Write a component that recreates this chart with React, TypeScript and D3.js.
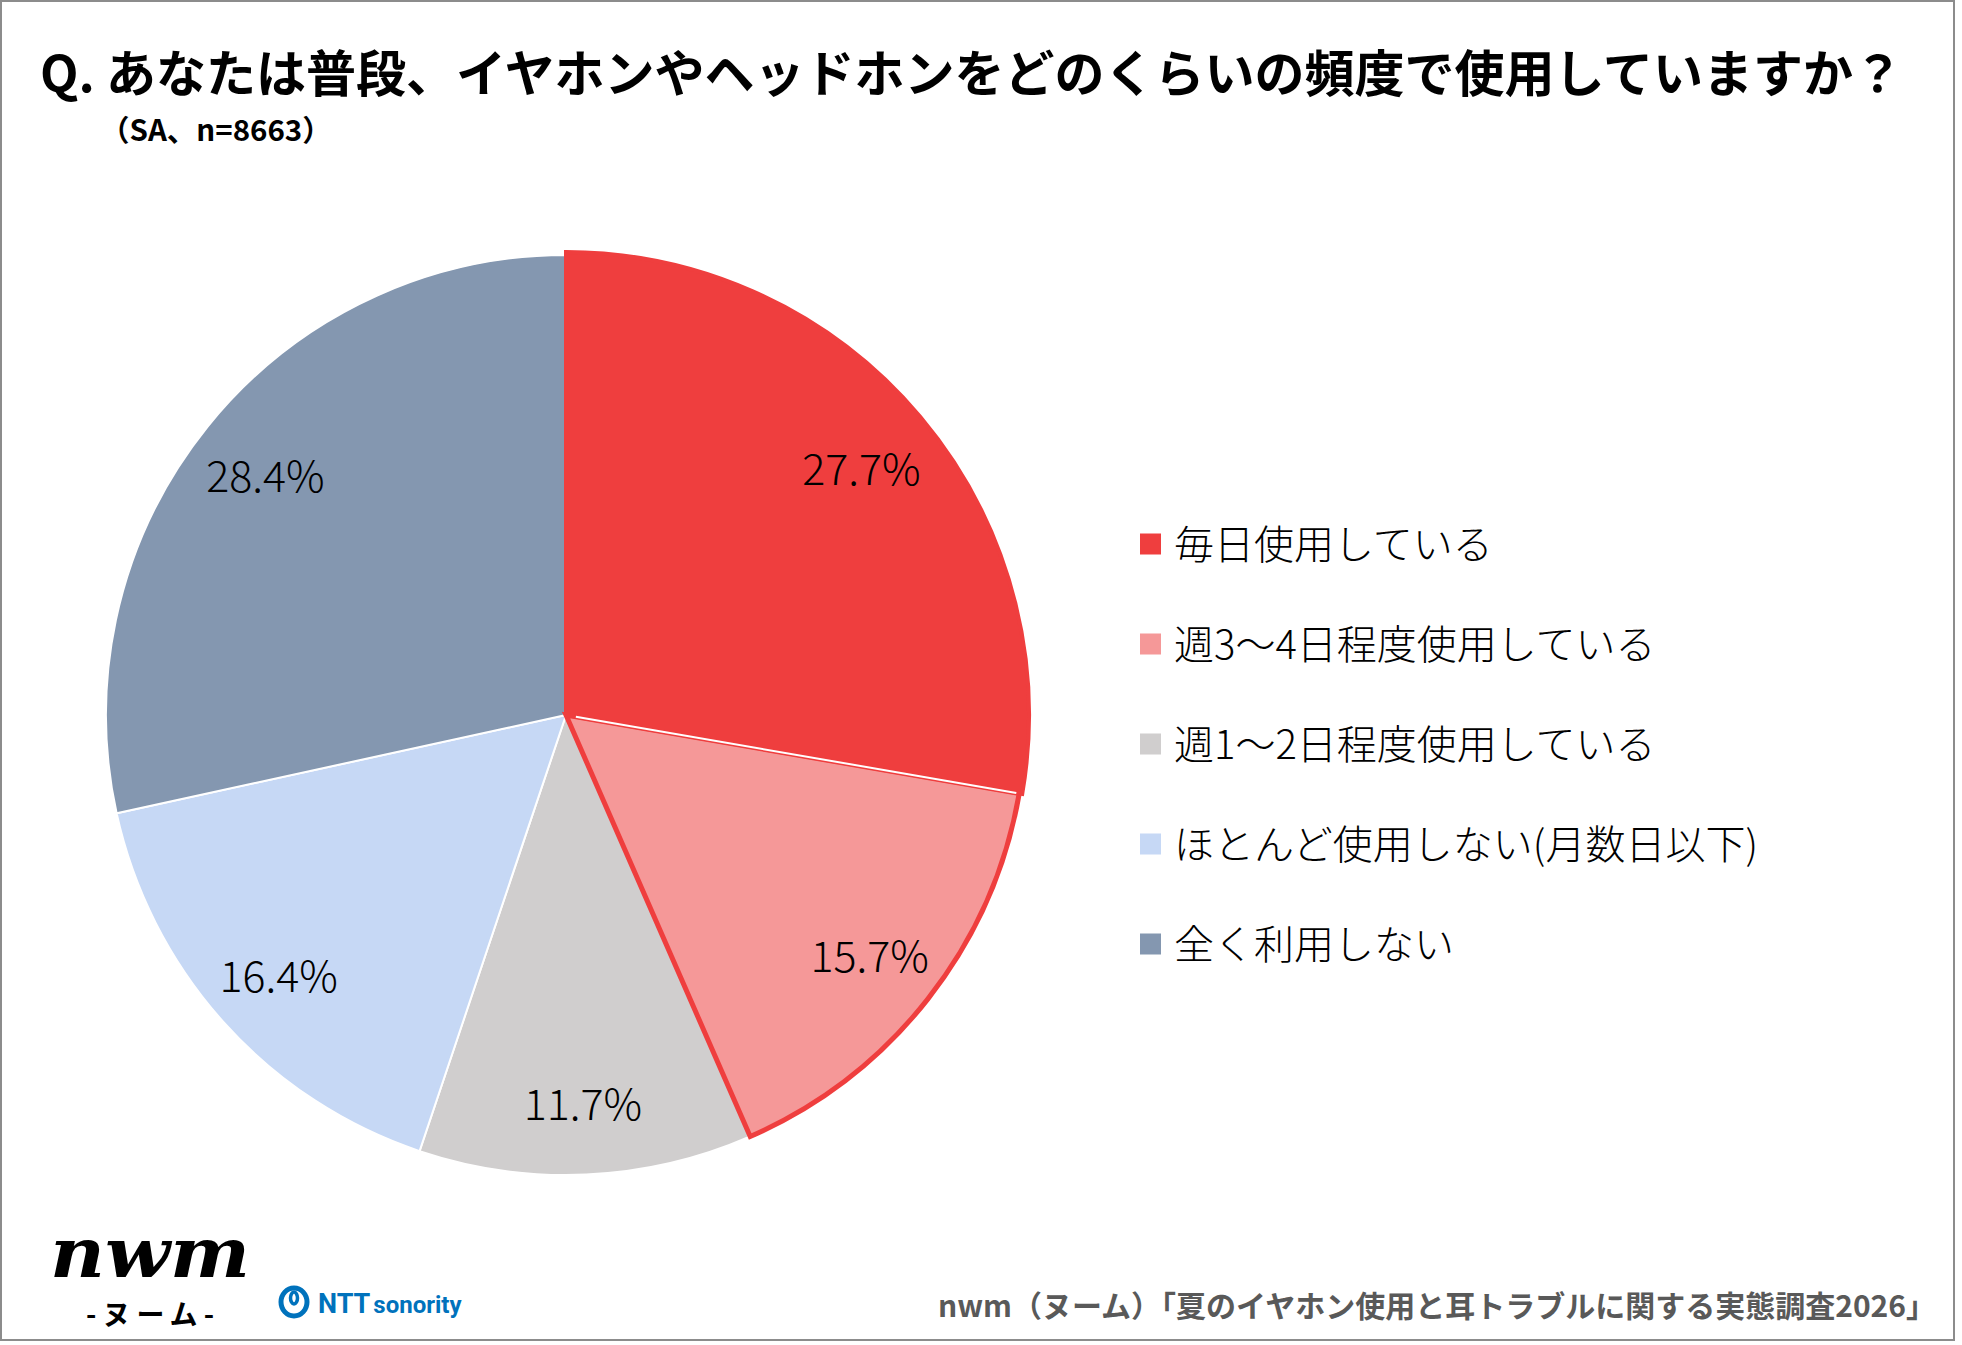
import React from "react";
import * as d3 from "d3";

// Survey answers (single answer, n=8663)
const categories = [
  "毎日使用している",
  "週3〜4日程度使用している",
  "週1〜2日程度使用している",
  "ほとんど使用しない(月数日以下)",
  "全く利用しない",
];
const values = [27.7, 15.7, 11.7, 16.4, 28.4];
const sliceColors = ["#EF3E3E", "#F59898", "#D0CECE", "#C6D8F5", "#8497B0"];
// slices that carry the red highlight outline
const highlighted = [0, 1];

const titleText = "Q. あなたは普段、イヤホンやヘッドホンをどのくらいの頻度で使用していますか？";
const subtitleText = "（SA、n=8663）";
const sourceText = "nwm（ヌーム）「夏のイヤホン使用と耳トラブルに関する実態調査2026」";

const W = 1962;
const H = 1345;
const CJK = "'Noto Sans CJK JP', 'Noto Sans', sans-serif";

export default function App() {
  const cx = 566;
  const cy = 715;
  const radius = 460;
  const labelRadius = 386;

  const pie = d3.pie<number>().sort(null).value((d) => d);
  const arcs = pie(values);
  const arcGen = d3.arc<d3.PieArcDatum<number>>().innerRadius(0).outerRadius(radius);
  const arcBig = d3.arc<d3.PieArcDatum<number>>().innerRadius(0).outerRadius(radius + 3);
  const labelArc = d3
    .arc<d3.PieArcDatum<number>>()
    .innerRadius(labelRadius)
    .outerRadius(labelRadius);

  // boundary between the two highlighted slices gets a white separator
  const sepAngle = arcs[0].endAngle;
  const sepFrom = 10;
  const sepTo = radius - 3;

  const legendX = 1140;
  const legendY0 = 544;
  const legendStep = 100;
  const sq = 21;

  return (
    <svg
      width={W}
      height={H}
      viewBox={`0 0 ${W} ${H}`}
      style={{ position: "absolute", left: 0, top: 0, background: "#fff" }}
    >
      <rect x={0} y={0} width={W} height={H} fill="#fff" />
      <rect x={1} y={1} width={1953} height={1339} fill="none" stroke="#8c8c8c" strokeWidth={2} />

      {/* title */}
      <text x={40} y={92} fontFamily={CJK} fontWeight={700} fontSize={50} fill="#000">
        {titleText}
      </text>
      <text x={100} y={141} fontFamily={CJK} fontWeight={700} fontSize={29.5} fill="#000">
        {subtitleText}
      </text>

      {/* pie */}
      <g transform={`translate(${cx},${cy})`}>
        {arcs.map((a, i) => (
          <path key={i} d={arcGen(a) || ""} fill={sliceColors[i]} stroke="#fff" strokeWidth={2} />
        ))}
        <path
          d={arcGen(arcs[1]) || ""}
          fill={sliceColors[1]}
          stroke="#EF3E3E"
          strokeWidth={5}
          strokeLinejoin="miter"
        />
        <path
          d={arcBig(arcs[0]) || ""}
          fill={sliceColors[0]}
          stroke="#EF3E3E"
          strokeWidth={4}
          strokeLinejoin="miter"
        />
        {highlighted.length > 1 && (
          <line
            x1={Math.sin(sepAngle) * sepFrom}
            y1={-Math.cos(sepAngle) * sepFrom}
            x2={Math.sin(sepAngle) * sepTo}
            y2={-Math.cos(sepAngle) * sepTo}
            stroke="#fff"
            strokeWidth={2}
          />
        )}
        {arcs.map((a, i) => {
          const [lx, ly] = labelArc.centroid(a);
          return (
            <text
              key={`l${i}`}
              x={lx}
              y={ly}
              textAnchor="middle"
              dominantBaseline="central"
              fontFamily={CJK}
              fontWeight={300}
              fontSize={43}
              fill="#000"
            >
              {`${values[i].toFixed(1)}%`}
            </text>
          );
        })}
      </g>

      {/* legend */}
      {categories.map((c, i) => {
        const y = legendY0 + i * legendStep;
        return (
          <g key={`lg${i}`}>
            <rect x={legendX} y={y - sq / 2} width={sq} height={sq} fill={sliceColors[i]} />
            <text
              x={1174}
              y={y - 2}
              dominantBaseline="central"
              fontFamily={CJK}
              fontWeight={300}
              fontSize={40}
              fill="#000"
            >
              {c}
            </text>
          </g>
        );
      })}

      {/* nwm logo */}
      <text
        x={150}
        y={1277}
        textAnchor="middle"
        fontFamily="'DejaVu Serif', 'Liberation Serif', serif"
        fontStyle="italic"
        fontWeight={700}
        fontSize={70}
        textLength={200}
        lengthAdjust="spacingAndGlyphs"
        fill="#000"
      >
        nwm
      </text>
      <text
        x={150}
        y={1325}
        textAnchor="middle"
        fontFamily={CJK}
        fontWeight={700}
        fontSize={28}
        textLength={128}
        lengthAdjust="spacing"
        fill="#000"
      >
        -ヌーム-
      </text>

      {/* NTT sonority logo */}
      <g fill="none" stroke="#0072BC">
        <ellipse cx={294} cy={1302} rx={13} ry={14} strokeWidth={5} />
        <ellipse cx={294} cy={1298} rx={3.5} ry={6} strokeWidth={3.5} />
      </g>
      <text x={318} y={1313} fontFamily="Roboto, 'Noto Sans', sans-serif" fontWeight={700} fontSize={27} fill="#0072BC">
        NTT
        <tspan fontSize={24} dx={3}>sonority</tspan>
      </text>

      {/* source */}
      <text
        x={1936}
        y={1317}
        textAnchor="end"
        fontFamily={CJK}
        fontWeight={700}
        fontSize={30}
        fill="#595959"
      >
        {sourceText}
      </text>
    </svg>
  );
}
